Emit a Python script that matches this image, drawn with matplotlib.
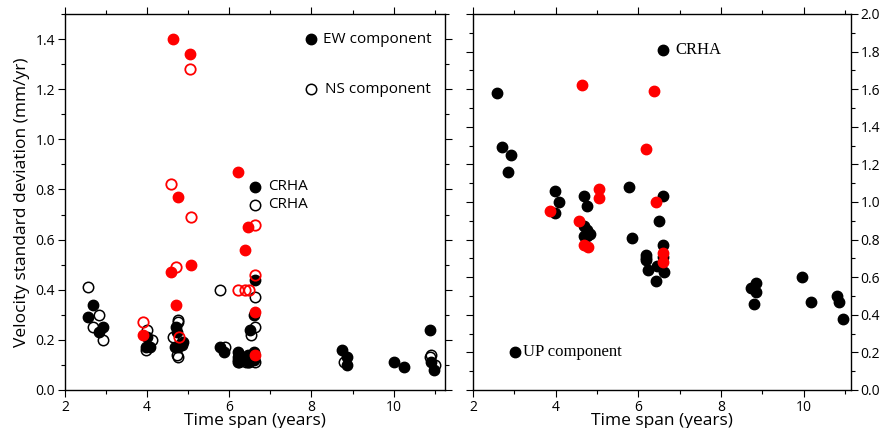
import matplotlib
matplotlib.use("Agg")
import matplotlib.pyplot as plt
from matplotlib.ticker import MultipleLocator

plt.rcParams['font.family'] = ['Open Sans', 'DejaVu Sans']

# EW component (filled black)
ew_x = [2.57, 2.69, 2.83, 2.93, 3.99, 3.98, 4.07, 4.71, 4.72, 4.68, 4.85, 4.76, 4.87,
        5.78, 5.88, 6.20, 6.20, 6.20, 6.23, 6.23, 6.45, 6.45, 6.45, 6.42, 6.59, 6.59, 6.60,
        6.63, 6.59, 6.51, 8.75, 8.87, 8.87, 10.0, 10.25, 10.89, 10.90, 10.98]
ew_y = [0.29, 0.34, 0.23, 0.25, 0.21, 0.17, 0.17, 0.25, 0.23, 0.17, 0.18, 0.17, 0.19,
        0.17, 0.15, 0.15, 0.13, 0.12, 0.14, 0.11, 0.14, 0.12, 0.11, 0.13, 0.15, 0.12, 0.13,
        0.44, 0.30, 0.24, 0.16, 0.13, 0.10, 0.11, 0.09, 0.24, 0.11, 0.08]
# NS component (open black)
ns_x = [2.57, 2.69, 2.83, 2.93, 3.99, 4.11, 3.97, 4.76, 4.76, 4.64, 4.72, 4.75,
        5.78, 5.90, 6.20, 6.24, 6.40, 6.47, 6.62, 6.62, 6.53, 6.62, 8.79, 10.90, 10.88, 11.0]
ns_y = [0.41, 0.25, 0.30, 0.20, 0.24, 0.20, 0.16, 0.28, 0.27, 0.21, 0.14, 0.13,
        0.40, 0.17, 0.11, 0.12, 0.11, 0.11, 0.37, 0.25, 0.22, 0.11, 0.11, 0.14, 0.13, 0.10]
# red stations, EW and NS
rew_x = [4.62, 5.04, 4.76, 6.20, 4.58, 5.07, 4.70, 6.45, 6.39, 6.63, 3.89, 6.63]
rew_y = [1.40, 1.34, 0.77, 0.87, 0.47, 0.50, 0.34, 0.65, 0.56, 0.31, 0.22, 0.14]
rns_x = [5.04, 4.58, 5.06, 4.71, 6.63, 6.63, 6.20, 6.39, 6.47, 3.89, 4.78]
rns_y = [1.28, 0.82, 0.69, 0.49, 0.66, 0.46, 0.40, 0.40, 0.40, 0.27, 0.21]

# UP component
up_x = [2.57, 2.70, 2.92, 2.84, 3.99, 4.08, 3.98, 4.69, 4.75, 4.69, 4.76, 4.69, 4.84, 4.76,
        5.77, 5.86, 6.61, 6.50, 6.59, 6.63, 6.59, 6.19, 6.19, 6.19, 6.23, 6.45, 6.44,
        8.72, 8.84, 8.84, 8.80, 9.97, 10.19, 10.82, 10.86, 10.95]
up_y = [1.58, 1.29, 1.25, 1.16, 1.06, 1.00, 0.94, 1.03, 0.98, 0.87, 0.85, 0.82, 0.83, 0.82,
        1.08, 0.81, 1.03, 0.90, 0.77, 0.63, 0.71, 0.72, 0.70, 0.69, 0.64, 0.66, 0.58,
        0.54, 0.57, 0.52, 0.46, 0.60, 0.47, 0.50, 0.47, 0.38]
rup_x = [4.63, 6.37, 6.19, 5.04, 5.05, 6.44, 3.87, 4.56, 4.69, 4.78, 6.61, 6.61]
rup_y = [1.62, 1.59, 1.28, 1.07, 1.02, 1.00, 0.95, 0.90, 0.77, 0.76, 0.73, 0.68]

RED = '#ff0000'
ms = 7.5

fig = plt.figure(figsize=(8.85, 4.28), dpi=100)
ax1 = fig.add_axes([0.0734, 0.0888, 0.4294, 0.8785])
ax2 = fig.add_axes([0.5345, 0.0888, 0.4271, 0.8785])

def style(ax, ymax):
    ax.set_xlim(2, 11.25)
    ax.set_ylim(0, ymax)
    ax.xaxis.set_major_locator(MultipleLocator(2))
    ax.xaxis.set_minor_locator(MultipleLocator(1))
    ax.yaxis.set_major_locator(MultipleLocator(0.2))
    ax.yaxis.set_minor_locator(MultipleLocator(0.1))
    ax.tick_params(which='both', direction='out', top=True, right=True, labelsize=10,
                   width=0.8, pad=2)
    ax.tick_params(which='major', length=5)
    ax.tick_params(which='minor', length=3)
    for s in ax.spines.values():
        s.set_linewidth(1.0)
    ax.set_xlabel('Time span (years)', fontsize=12.5, labelpad=-1)

# left panel
ax1.plot(ew_x, ew_y, 'o', color='black', ms=ms, zorder=2)
ax1.plot(ns_x, ns_y, 'o', mfc='none', mec='black', mew=1.1, ms=ms, zorder=3)
ax1.plot(rew_x, rew_y, 'o', color=RED, ms=ms, zorder=4)
ax1.plot(rns_x, rns_y, 'o', mfc='none', mec=RED, mew=1.3, ms=ms, zorder=5)

ax1.plot([8.0], [1.40], 'o', color='black', ms=ms)
ax1.text(8.28, 1.40, 'EW component', fontsize=11, va='center')
ax1.plot([8.0], [1.20], 'o', mfc='none', mec='black', mew=1.1, ms=ms)
ax1.text(8.34, 1.20, 'NS component', fontsize=11, va='center')
ax1.plot([6.62], [0.81], 'o', color='black', ms=ms)
ax1.text(6.94, 0.81, 'CRHA', fontsize=11, va='center')
ax1.plot([6.62], [0.74], 'o', mfc='none', mec='black', mew=1.1, ms=ms)
ax1.text(6.94, 0.74, 'CRHA', fontsize=11, va='center')

style(ax1, 1.5)
ax1.yaxis.set_major_formatter(matplotlib.ticker.FormatStrFormatter('%.1f'))
ax1.set_ylabel('Velocity standard deviation (mm/yr)', fontsize=12.5, labelpad=4)

# right panel
ax2.plot(up_x, up_y, 'o', color='black', ms=ms, zorder=2)
ax2.plot(rup_x, rup_y, 'o', color=RED, ms=ms, zorder=3)
ax2.plot([6.61], [1.81], 'o', color='black', ms=ms)
ax2.text(6.91, 1.81, 'CRHA', fontsize=12, va='center', family='Liberation Serif')
ax2.plot([3.02], [0.20], 'o', color='black', ms=ms)
ax2.text(3.20, 0.20, 'UP component', fontsize=12, va='center', family='Liberation Serif')

style(ax2, 2.0)
ax2.set_xlim(2, 11.15)
ax2.yaxis.set_major_formatter(matplotlib.ticker.FormatStrFormatter('%.1f'))
ax2.tick_params(labelleft=False, labelright=True)

fig.savefig('out.png', dpi=100)
